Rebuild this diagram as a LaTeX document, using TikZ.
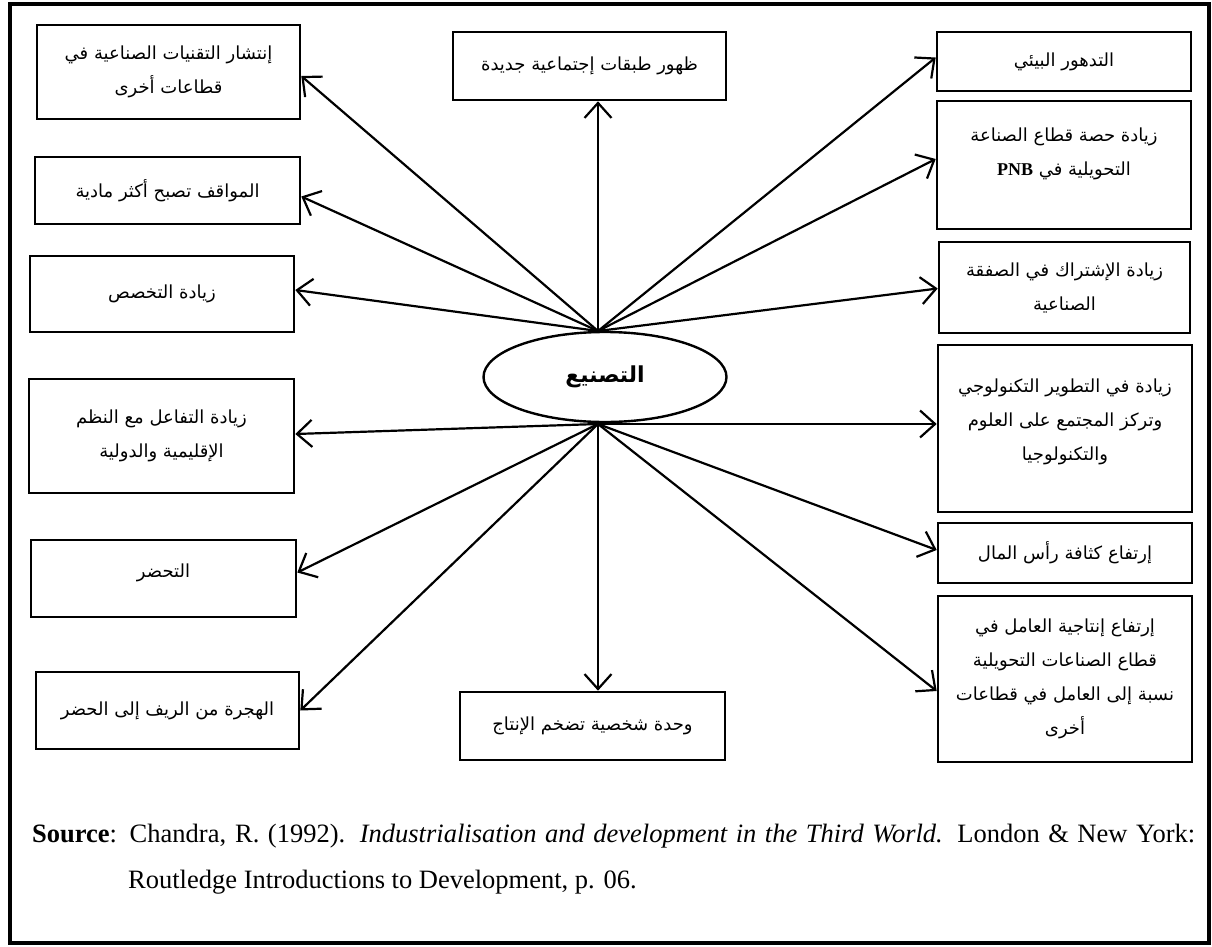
\documentclass[tikz,border=0pt]{standalone}
\usepackage{fontspec}
\setmainfont{Liberation Serif}
\newfontfamily\arabicfont[Script=Arabic]{DejaVu Sans}
\TeXXeTstate=1
\usetikzlibrary{arrows.meta,shapes.geometric,calc}
\newcommand{\rl}[1]{\beginR #1\endR}
\tikzset{
  effect/.style={draw, line width=2.6pt, rectangle, align=center, inner sep=2pt,
    font=\arabicfont\fontsize{18}{34}\selectfont},
  hub/.style={draw, line width=2.4pt, ellipse, minimum width=243pt, minimum height=90pt,
    font=\arabicfont\bfseries\fontsize{22}{26}\selectfont},
  link/.style={line width=2.2pt, -{Straight Barb[length=15pt,width=27pt,line width=2.2pt]}},
  frame/.style={line width=4.5pt},
}
\begin{document}
\begin{tikzpicture}[x=1pt,y=-1pt]
\useasboundingbox (0,0) rectangle (1212,947);
\draw[frame] (10,4) rectangle (1209,943);

% central node
\node[hub] (ind) at (605,377) {\rl{التصنيع}};
\coordinate (hubT) at (598,331);
\coordinate (hubB) at (598,424);

% left column
\node[effect, minimum width=263pt, minimum height=94pt] (L1) at (168.5,72)
  {\rl{إنتشار التقنيات الصناعية في}\\\rl{قطاعات أخرى}};
\node[effect, minimum width=265pt, minimum height=67pt] (L2) at (167.5,190.5)
  {\rl{المواقف تصبح أكثر مادية}};
\node[effect, minimum width=264pt, minimum height=76pt] (L3) at (162,294)
  {\rl{زيادة التخصص}};
\node[effect, minimum width=265pt, minimum height=114pt] (L4) at (161.5,436)
  {\rl{زيادة التفاعل مع النظم}\\\rl{الإقليمية والدولية}};
\node[effect, minimum width=265pt, minimum height=77pt, text depth=16pt] (L5) at (163.5,578.5)
  {\rl{التحضر}};
\node[effect, minimum width=263pt, minimum height=77pt] (L6) at (167.5,710.5)
  {\rl{الهجرة من الريف إلى الحضر}};

% middle column
\node[effect, minimum width=273pt, minimum height=68pt] (T) at (589.5,66)
  {\rl{ظهور طبقات إجتماعية جديدة}};
\node[effect, minimum width=265pt, minimum height=68pt] (B) at (592.5,726)
  {\rl{وحدة شخصية تضخم الإنتاج}};

% right column
\node[effect, minimum width=254pt, minimum height=59pt] (R1) at (1064,61.5)
  {\rl{التدهور البيئي}};
\node[effect, minimum width=254pt, minimum height=128pt, text depth=26pt] (R2) at (1064,165)
  {\rl{زيادة حصة قطاع الصناعة}\\\rl{التحويلية في {\rmfamily\bfseries PNB}}};
\node[effect, minimum width=251pt, minimum height=91pt] (R3) at (1064.5,287.5)
  {\rl{زيادة الإشتراك في الصفقة}\\\rl{الصناعية}};
\node[effect, minimum width=254pt, minimum height=167pt, text depth=18pt] (R4) at (1065,428.5)
  {\rl{زيادة في التطوير التكنولوجي}\\\rl{وتركز المجتمع على العلوم}\\\rl{والتكنولوجيا}};
\node[effect, minimum width=254pt, minimum height=60pt] (R5) at (1065,553)
  {\rl{إرتفاع كثافة رأس المال}};
\node[effect, minimum width=254pt, minimum height=166pt] (R6) at (1065,679)
  {\rl{إرتفاع إنتاجية العامل في}\\\rl{قطاع الصناعات التحويلية}\\\rl{نسبة إلى العامل في قطاعات}\\\rl{أخرى}};

% connectors from the upper side of the hub
\draw[link] (hubT) -- ([yshift=-4pt]L1.east);
\draw[link] (hubT) -- ([yshift=-6pt]L2.east);
\draw[link] (hubT) -- ([yshift=4pt]L3.east);
\draw[link] (hubT) -- (hubT |- T.south);
\draw[link] (hubT) -- ([yshift=4pt]R1.west);
\draw[link] (hubT) -- ([yshift=6pt]R2.west);
\draw[link] (hubT) -- ([yshift=-1pt]R3.west);

% connectors from the lower side of the hub
\draw[link] (hubB) -- ([yshift=2pt]L4.east);
\draw[link] (hubB) -- ([yshift=6pt]L5.east);
\draw[link] (hubB) -- (L6.east);
\draw[link] (hubB) -- (hubB |- B.north);
\draw[link] (hubB) -- (R4.west |- hubB);
\draw[link] (hubB) -- ([yshift=3pt]R5.west);
\draw[link] (hubB) -- ([yshift=-12pt]R6.west);

% source line
\node[anchor=base west, inner sep=0pt, font=\fontsize{26.5}{30}\selectfont] (src1) at (32,842)
  {\makebox[1163pt][s]{\textbf{Source}: Chandra, R. (1992). \textit{Industrialisation and development in the Third World.} London \& New York:}};
\node[anchor=base west, inner sep=0pt, font=\fontsize{26.5}{30}\selectfont] (src2) at (128,888)
  {Routledge Introductions to Development, p. 06.};
\end{tikzpicture}
\end{document}
